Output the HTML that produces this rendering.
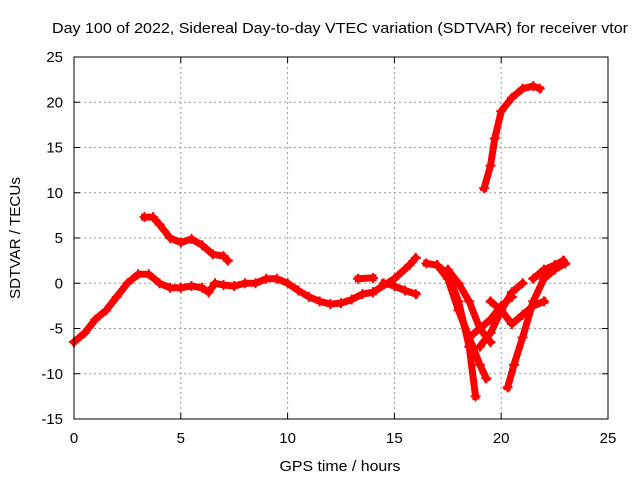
<!DOCTYPE html>
<html><head><meta charset="utf-8"><style>
body{margin:0;background:#fff}
svg{display:block;font-family:"Liberation Sans",sans-serif}
</style></head><body>
<svg id="chart" width="640" height="480">
<text x="340" y="33" font-size="15" text-anchor="middle" textLength="576" lengthAdjust="spacingAndGlyphs">Day 100 of 2022, Sidereal Day-to-day VTEC variation (SDTVAR) for receiver vtor</text>
<text x="340" y="471" font-size="15" text-anchor="middle" textLength="121" lengthAdjust="spacingAndGlyphs">GPS time / hours</text>
<text x="20" y="238" font-size="15" text-anchor="middle" textLength="122" lengthAdjust="spacingAndGlyphs" transform="rotate(-90 20 238)">SDTVAR / TECUs</text>
<g id="grid"></g><g id="ticks"></g><g id="series"></g>
<rect x="74" y="57" width="534" height="362" fill="none" stroke="#000" stroke-width="1"/>
</svg>
<script>
const xTicks=[0,5,10,15,20,25];
const yTicks=[25,20,15,10,5,0,-5,-10,-15];
const trackA=[[0,-6.5],[0.5,-5.5],[1,-4],[1.5,-3],[2,-1.5],[2.5,0],[3,1],[3.5,1],[4,0],[4.5,-0.5],[5,-0.5],[5.5,-0.3],[6,-0.5],[6.3,-1],[6.6,0],[7,-0.2],[7.5,-0.3],[8,0],[8.5,0],[9,0.5],[9.5,0.5],[10,0],[10.5,-0.8],[11,-1.5],[11.5,-2],[12,-2.3],[12.5,-2.2],[13,-1.8],[13.5,-1.2],[14,-1]];
const trackB=[[3.3,7.3],[3.7,7.3],[4,6.5],[4.5,5],[5,4.5],[5.5,4.9],[6,4.2],[6.5,3.2],[7,3],[7.2,2.5]];
const trackC=[[13.3,0.5],[14,0.6]];
const trackD=[[14,-1],[15,0.5],[15.7,2],[16,2.8]];
const trackD2=[[14.5,0],[15,-0.3],[15.5,-0.8],[16,-1.2]];
const trackE=[[16.5,2.2],[17,2],[17.5,1],[18,-2],[18.5,-7],[18.8,-12.5]];
const trackF=[[17,2],[17.5,0.5],[18,-3],[18.5,-6],[19,-9],[19.3,-10.5]];
const trackG=[[17.5,1.5],[18,0],[18.5,-2],[19,-5],[19.5,-6.5]];
const trackH=[[18.5,-6],[19,-5],[19.5,-4],[20,-2.5],[20.5,-1.5]];
const trackI=[[19,-7],[19.5,-5.5],[20,-3],[20.5,-1],[21,0]];
const trackJ=[[19.5,-2],[20,-3],[20.5,-4.5],[21,-3.5],[21.5,-2.5],[22,-2]];
const trackK=[[20.3,-11.5],[20.6,-9],[21,-6],[21.5,-2],[22,0.5],[22.5,1.5],[23,2.2]];
const trackL=[[21.5,0.5],[22,1.5],[22.5,2],[22.9,2.5]];
const trackM=[[19.2,10.5],[19.5,13],[19.7,16],[20,19],[20.5,20.5],[21,21.5],[21.5,21.8],[21.8,21.5]];
const tracks=[trackA,trackB,trackC,trackD,trackD2,trackE,trackF,trackG,trackH,trackI,trackJ,trackK,trackL,trackM];
const NS="http://www.w3.org/2000/svg";
const X=t=>74+(t-0)*534/25;
const Y=v=>419-(v+15)*362/40;
const grid=document.getElementById('grid'),ticks=document.getElementById('ticks'),ser=document.getElementById('series');
function mk(tag,attrs,parent){const e=document.createElementNS(NS,tag);for(const k in attrs)e.setAttribute(k,attrs[k]);parent.appendChild(e);return e;}
xTicks.forEach(t=>{
  if(t>0&&t<25){const g=mk('line',{x1:X(t),x2:X(t),y1:57,y2:419,stroke:'#999','stroke-dasharray':'2,3'},grid);
  
  }
  const l=mk('text',{x:X(t),y:443,'font-size':15,'text-anchor':'middle'},ticks);l.textContent=t;
  
  
  mk('line',{x1:X(t),x2:X(t),y1:419,y2:413,stroke:'#000'},ticks);
  mk('line',{x1:X(t),x2:X(t),y1:57,y2:63,stroke:'#000'},ticks);
});
yTicks.forEach(v=>{
  if(v>-15&&v<25){const g=mk('line',{x1:74,x2:608,y1:Y(v),y2:Y(v),stroke:'#999','stroke-dasharray':'2,3'},grid);
  
  }
  const l=mk('text',{x:63,y:Y(v)+5,'font-size':15,'text-anchor':'end'},ticks);l.textContent=v;
  
  
  mk('line',{x1:74,x2:80,y1:Y(v),y2:Y(v),stroke:'#000'},ticks);
  mk('line',{x1:608,x2:602,y1:Y(v),y2:Y(v),stroke:'#000'},ticks);
});
tracks.forEach(tr=>{
  const p=mk('polyline',{points:tr.map(d=>X(d[0])+','+Y(d[1])).join(' '),fill:'none',stroke:'#f00','stroke-width':7,'stroke-linejoin':'round','stroke-linecap':'square'},ser);
  
  
  tr.forEach(d=>{
    const m=mk('path',{d:`M${X(d[0])-5},${Y(d[1])}h10M${X(d[0])},${Y(d[1])-5}v10`,stroke:'#f00','stroke-width':2},ser);
    
    
  });
});
</script>
</body></html>
